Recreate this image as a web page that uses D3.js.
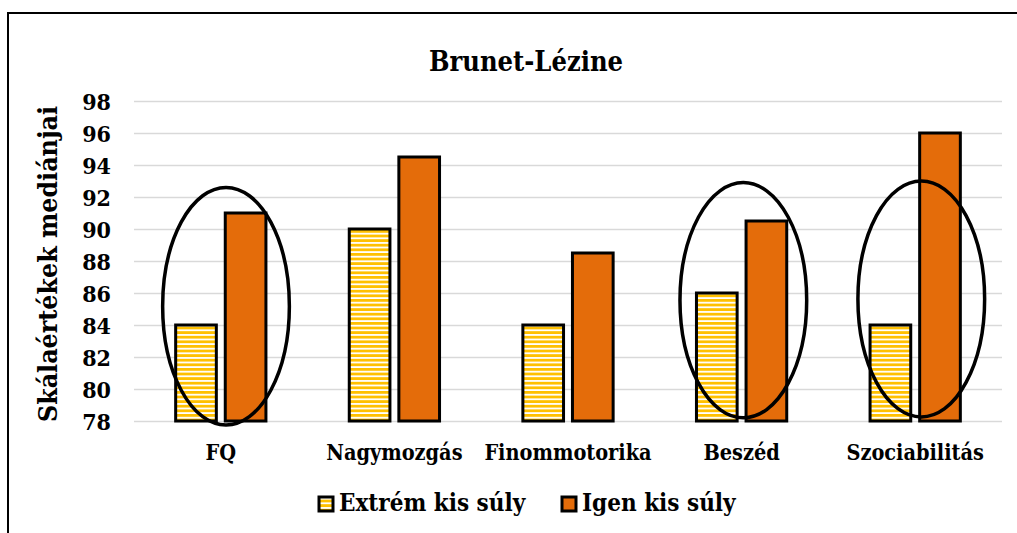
<!DOCTYPE html>
<html>
<head>
<meta charset="utf-8">
<script src="https://cdn.jsdelivr.net/npm/d3@7"></script>
<style>
  html, body { margin: 0; padding: 0; background: #fff; }
  svg { display: block; }
  text { font-family: "DejaVu Serif Condensed", "DejaVu Serif", serif; font-weight: bold; fill: #000; }
</style>
</head>
<body>
<svg id="chart" width="1017" height="533"></svg>
<script>
// Medians of the Brunet-Lézine subscales by birth-weight group
const categories = ["FQ", "Nagymozgás", "Finommotorika", "Beszéd", "Szociabilitás"];
const seriesNames = ["Extrém kis súly", "Igen kis súly"];
const extremeValues = [84, 90, 84, 86, 84];
const veryLowValues = [91, 94.5, 88.5, 90.5, 96];
const yTicks = [78, 80, 82, 84, 86, 88, 90, 92, 94, 96, 98];
// Highlighted groups: category, vertical extent in scale units, horizontal shift as share of band step
const highlightCats = ["FQ", "Beszéd", "Szociabilitás"];
const highlightTop = [92.6, 92.9, 93.0];
const highlightBottom = [77.75, 78.2, 78.25];
const highlightShift = [0.03, 0.01, 0.035];

const svg = d3.select("#chart");
const W = 1017, H = 533;
const plot = { left: 134, right: 1002, top: 101, bottom: 421 };

const y = d3.scaleLinear().domain([78, 98]).range([plot.bottom, plot.top]);
const x0 = d3.scaleBand().domain(categories).range([plot.left, plot.right])
  .paddingInner(0.48).paddingOuter(0.24);
const x1 = d3.scaleBand().domain(seriesNames).range([0, x0.bandwidth()]).paddingInner(0.18);

// Stripe pattern for the first series
const defs = svg.append("defs");
const pat = defs.append("pattern").attr("id", "stripes")
  .attr("patternUnits", "userSpaceOnUse").attr("width", 8).attr("height", 4.6);
pat.append("rect").attr("width", 8).attr("height", 4.6).attr("fill", "#fff");
pat.append("rect").attr("y", 0).attr("width", 8).attr("height", 2.8).attr("fill", "#FFC000");

const fills = ["url(#stripes)", "#E46C0A"];

// Outer frame
svg.append("rect").attr("x", 8).attr("y", 13).attr("width", W + 20).attr("height", H + 20)
  .attr("fill", "none").attr("stroke", "#000").attr("stroke-width", 2);

// Title
svg.append("text").attr("x", 526).attr("y", 71).attr("text-anchor", "middle")
  .style("font-size", "27px").text("Brunet-Lézine");

// Gridlines
const yAxis = d3.axisLeft(y).tickValues(yTicks).tickSize(-(plot.right - plot.left)).tickPadding(23).tickFormat(d3.format("d"));
const gy = svg.append("g").attr("transform", `translate(${plot.left},0)`).call(yAxis);
gy.select(".domain").remove();
gy.selectAll(".tick line").attr("stroke", "#d9d9d9").attr("stroke-width", 1.5);
gy.selectAll(".tick text").style("font-size", "23px").attr("dy", "0.35em");

// Axis title
svg.append("text")
  .attr("transform", `translate(57,${(plot.top + plot.bottom) / 2 + 3}) rotate(-90)`)
  .attr("text-anchor", "middle").style("font-size", "26.5px").text("Skálaértékek mediánjai");

// Bars
const rows = categories.map((c, i) => ({ cat: c, vals: [extremeValues[i], veryLowValues[i]] }));
const groups = svg.append("g").selectAll("g").data(rows).join("g")
  .attr("transform", d => `translate(${x0(d.cat)},0)`);
groups.selectAll("rect").data(d => d.vals.map((v, k) => ({ v, k }))).join("rect")
  .attr("x", d => x1(seriesNames[d.k]))
  .attr("width", x1.bandwidth())
  .attr("y", d => y(d.v))
  .attr("height", d => y(78) - y(d.v))
  .attr("fill", d => fills[d.k])
  .attr("stroke", "#000").attr("stroke-width", 3);

// Category labels
const xAxis = d3.axisBottom(x0).tickSize(0).tickPadding(24);
const gx = svg.append("g").attr("transform", `translate(0,${plot.bottom})`).call(xAxis);
gx.select(".domain").remove();
gx.selectAll(".tick text").style("font-size", "21.5px");

// Highlight ellipses
const step = x0.step();
svg.append("g").selectAll("ellipse").data(highlightCats.map((c, i) => ({
    c, top: highlightTop[i], bottom: highlightBottom[i], shift: highlightShift[i] })))
  .join("ellipse")
  .attr("cx", d => x0(d.c) + x0.bandwidth() / 2 + d.shift * step)
  .attr("cy", d => (y(d.top) + y(d.bottom)) / 2)
  .attr("rx", step * 0.365)
  .attr("ry", d => (y(d.bottom) - y(d.top)) / 2)
  .attr("fill", "none").attr("stroke", "#000").attr("stroke-width", 3.5);

// Legend
const legendX = [318, 561];
const legend = svg.append("g").selectAll("g").data(seriesNames).join("g")
  .attr("transform", (d, i) => `translate(${legendX[i]},495)`);
legend.append("rect").attr("width", 14).attr("height", 14).attr("x", 1).attr("y", 2)
  .attr("fill", (d, i) => fills[i]).attr("stroke", "#000").attr("stroke-width", 3);
legend.append("text").attr("x", 21).attr("y", 16).style("font-size", "24px").text(d => d);
</script>
</body>
</html>
